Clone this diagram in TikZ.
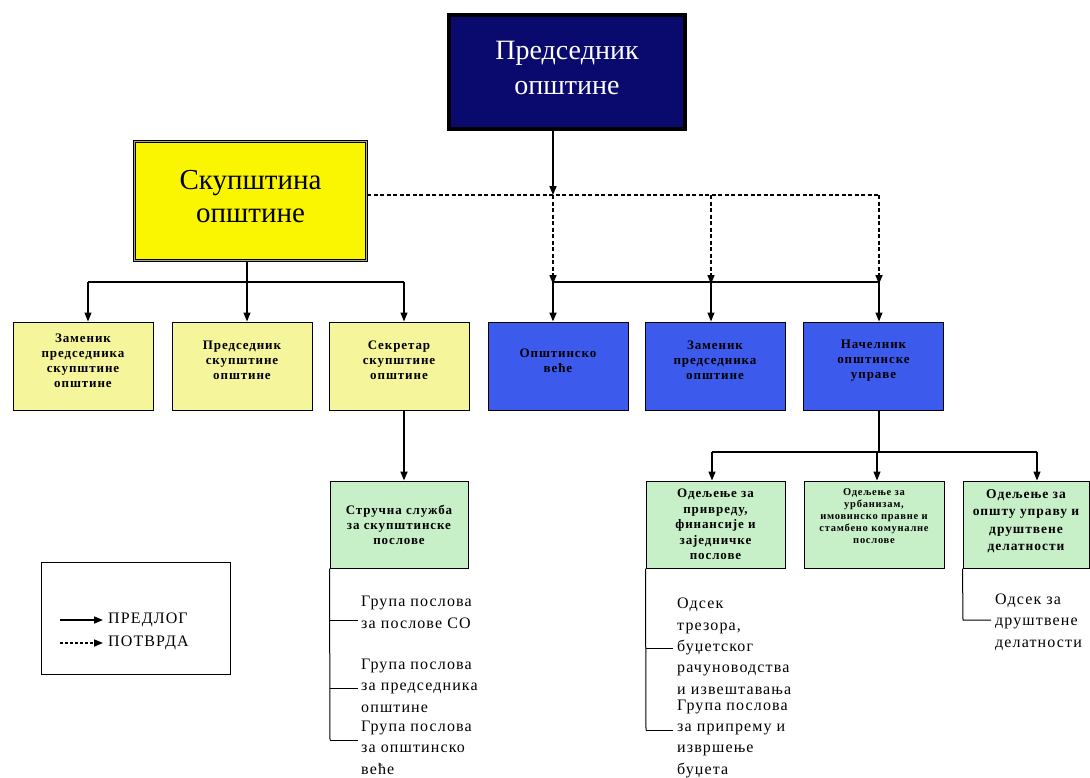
\documentclass[tikz,border=0pt]{standalone}
\usepackage{fontspec}
\setmainfont{Liberation Serif}
\newfontfamily\listfont[LetterSpace=7]{Liberation Serif}
\newfontfamily\boxfont[LetterSpace=7]{Liberation Serif}
\usetikzlibrary{arrows.meta}
\definecolor{navy}{RGB}{10,10,110}
\definecolor{ybig}{RGB}{250,245,0}
\definecolor{ylight}{RGB}{245,245,155}
\definecolor{bluebox}{RGB}{60,90,235}
\definecolor{greenbox}{RGB}{200,240,200}
\begin{document}
\begin{tikzpicture}[x=1pt,y=-1pt,
  small/.style={draw=black, line width=1pt, inner sep=0pt,
    minimum width=140pt, minimum height=88pt},
  lbl/.style={align=center, inner sep=0pt, yshift=#1,
    font=\boxfont\bfseries\fontsize{13}{15}\selectfont},
  lbl/.default=5.5pt,
  gbox/.style={small, fill=greenbox, minimum height=87pt},
  arr/.style={-{Triangle[length=9pt,width=7pt]}, line width=1.2pt},
  darr/.style={arr, dash pattern=on 4pt off 2.5pt, line width=1.6pt},
  dline/.style={dash pattern=on 4pt off 2.5pt, line width=1.6pt},
  sline/.style={line width=1.2pt},
  tline/.style={line width=1pt},
  listtext/.style={align=left, inner sep=0pt, anchor=base west,
    font=\listfont\fontsize{16}{21.3}\selectfont},
]
\useasboundingbox (0,0) rectangle (1090,777);

% top boxes
\node[draw=black, line width=3.5pt, fill=navy, minimum width=236pt, minimum height=114pt,
  label={[align=center, inner sep=0pt, yshift=4.5pt, text=white,
    font=\fontsize{28}{35}\selectfont]center:{Председник\\општине}}] (P) at (567,72) {};
\node[draw=black, line width=1pt, double=gray!70, double distance=1.6pt,
  fill=ybig, minimum width=232pt, minimum height=119pt,
  label={[align=center, inner sep=0pt, yshift=4.5pt,
    font=\fontsize{29}{33}\selectfont]center:{Скупштина\\општине}}] (Y) at (250.5,201) {};

% second row
\node[small, fill=ylight, label={[lbl]center:{Заменик\\председника\\скупштине\\општине}}] (z1) at (83,366) {};
\node[small, fill=ylight, label={[lbl]center:{Председник\\скупштине\\општине}}] (z2) at (242,366) {};
\node[small, fill=ylight, label={[lbl]center:{Секретар\\скупштине\\општине}}] (z3) at (399,366) {};
\node[small, fill=bluebox, label={[lbl]center:{Општинско\\веће}}] (b1) at (558,366) {};
\node[small, fill=bluebox, label={[lbl]center:{Заменик\\председника\\општине}}] (b2) at (715,366) {};
\node[small, fill=bluebox, label={[lbl]center:{Начелник\\општинске\\управе}}] (b3) at (873.5,366) {};

% third row
\node[gbox, minimum width=138pt, label={[lbl=0pt]center:{Стручна служба\\за скупштинске\\послове}}] (g0) at (399,524.5) {};
\node[gbox, minimum width=139pt, label={[lbl=0pt, font=\boxfont\bfseries\fontsize{13}{15.5}\selectfont]center:{Одељење за\\привреду,\\финансије и\\заједничке\\послове}}] (g1) at (715.5,524.5) {};
\node[gbox, minimum width=140pt, label={[lbl=8pt, font=\boxfont\bfseries\fontsize{10.5}{12}\selectfont]center:{Одељење за\\урбанизам,\\имовинско правне и\\стамбено комуналне\\послове}}] (g2) at (874,524.5) {};
\node[gbox, minimum width=126pt, label={[lbl=3.5pt, font=\boxfont\bfseries\fontsize{13.5}{17.5}\selectfont]center:{Одељење за\\општу управу и\\друштвене\\делатности}}] (g3) at (1026,524.5) {};

% junction coordinates
\coordinate (jt) at (553,195);
\coordinate (jm) at (711,195);
\coordinate (jr) at (879,195);
\coordinate (h1) at (553,282);
\coordinate (h2) at (711,282);
\coordinate (h3) at (879,282);
\coordinate (ya) at (247,282);
\coordinate (yl) at (88,282);
\coordinate (yr) at (404,282);
\coordinate (na) at (879,452);
\coordinate (nl) at (712,452);
\coordinate (nm) at (877,452);
\coordinate (nr) at (1037,452);

% president to junction
\draw[arr, line width=1.6pt] (P.south -| jt) -- (jt);
% dashed confirmation
\draw[dline] (Y.east |- jt) -- (jr);
\draw[darr] (jt) -- ([yshift=-2pt]h1);
\draw[darr] (jm) -- ([yshift=-2pt]h2);
\draw[darr] (jr) -- ([yshift=-2pt]h3);
% solid proposals to blue boxes
\draw[sline] (h1) -- (h3);
\draw[arr, line width=1.8pt] (h1) -- (b1.north -| h1);
\draw[arr] (h2) -- (b2.north -| h2);
\draw[arr] (h3) -- (b3.north -| h3);

% assembly tree
\draw[sline] (Y.south -| ya) -- (ya);
\draw[sline] (yl) -- (yr);
\draw[arr] (yl) -- (z1.north -| yl);
\draw[arr] (ya) -- (z2.north -| ya);
\draw[arr] (yr) -- (z3.north -| yr);
\draw[arr, line width=1.8pt] (z3.south -| yr) -- (g0.north -| yr);

% administration tree
\draw[sline] (b3.south -| na) -- (na);
\draw[sline] (nl) -- (nr);
\draw[arr] (nl) -- (g1.north -| nl);
\draw[arr] (nm) -- (g2.north -| nm);
\draw[arr] (nr) -- (g3.north -| nr);

% list under Strucna sluzba (base = last line)
\node[listtext] (s1) at (361,628) {Група послова\\за послове СО};
\node[listtext] (s2) at (361,712) {Група послова\\за председника\\општине};
\node[listtext] (s3) at (361,774) {Група послова\\за општинско\\веће};
\coordinate (s3c) at (330,740);
\draw[tline] (g0.south west) -- (s3c);
\draw[tline] (g0.south west |- 0,620) -- (358,620);
\draw[tline] (g0.south west |- 0,688) -- (358,688);
\draw[tline] (s3c) -- (358,740);

% list under Odeljenje za privredu
\node[listtext] (o1) at (677,694) {Одсек\\трезора,\\буџетског\\рачуноводства\\и извештавања};
\node[listtext] (o2) at (677,774) {Група послова\\за припрему и\\извршење\\буџета};
\coordinate (o2c) at (646,730);
\draw[tline] (g1.south west) -- (o2c);
\draw[tline] (g1.south west |- 0,648) -- (673,648);
\draw[tline] (o2c) -- (673,730);

% list under Odeljenje za opstu upravu
\node[listtext] (r1) at (995,647) {Одсек за\\друштвене\\делатности};
\coordinate (r1c) at (963,620);
\draw[tline] (g3.south west) -- (r1c) -- (991,620);

% legend
\node[draw=black, line width=1pt, minimum width=189pt, minimum height=112pt] (L) at (136,618) {};
\node[listtext, anchor=west, inner sep=1pt] (l1) at (107,620) {ПРЕДЛОГ};
\node[listtext, anchor=west, inner sep=1pt] (l2) at (107,643) {ПОТВРДА};
\coordinate (l1s) at (60,620);
\coordinate (l2s) at (60,643);
\draw[arr, line width=1.6pt] (l1s) -- ([xshift=-4pt]l1.west);
\draw[darr, dash pattern=on 3pt off 2pt] (l2s) -- ([xshift=-4pt]l2.west);
\end{tikzpicture}
\end{document}
